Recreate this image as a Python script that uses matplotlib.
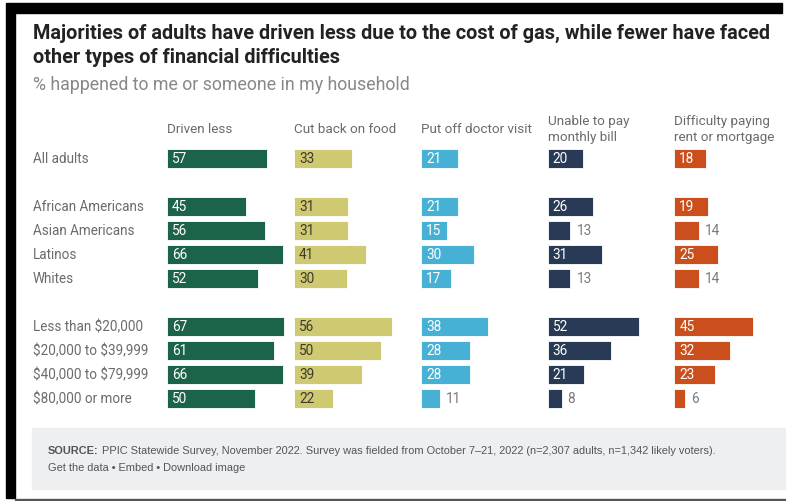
import matplotlib
matplotlib.use("Agg")
import matplotlib.pyplot as plt
from matplotlib.patches import Rectangle
from matplotlib import transforms

plt.rcParams["text.parse_math"] = False

W, H = 786, 502

groups = ["All adults", "African Americans", "Asian Americans", "Latinos", "Whites",
          "Less than $20,000", "$20,000 to $39,999", "$40,000 to $79,999", "$80,000 or more"]
row_pos = [0, 2, 3, 4, 5, 7, 8, 9, 10]

columns = ["Driven less", "Cut back on food", "Put off doctor visit",
           "Unable to pay\nmonthly bill", "Difficulty paying\nrent or mortgage"]
driven_less = [57, 45, 56, 66, 52, 67, 61, 66, 50]
cut_food = [33, 31, 31, 41, 30, 56, 50, 39, 22]
doctor = [21, 21, 15, 30, 17, 38, 28, 28, 11]
monthly_bill = [20, 26, 13, 31, 13, 52, 36, 21, 8]
rent = [18, 19, 14, 25, 14, 45, 32, 23, 6]
series = [driven_less, cut_food, doctor, monthly_bill, rent]

colors = ["#1c6449", "#cfc972", "#46b1d5", "#283a55", "#cb4f1c"]
inner_text = ["white", "#3b3b30", "white", "white", "white"]

FONT = "Roboto"
GREY = "#6b6b6b"


def fx(px):
    return px / W


def fy(py):
    return 1 - py / H


fig = plt.figure(figsize=(W / 100, H / 100), dpi=100)
fig.patch.set_facecolor("white")

# frame pieces around the card
fig.patches.append(Rectangle((fx(6), fy(14)), fx(776), 10 / H, transform=fig.transFigure,
                             color="black", zorder=0))
fig.patches.append(Rectangle((fx(6), fy(499)), fx(9), 485 / H, transform=fig.transFigure,
                             color="black", zorder=0))
fig.patches.append(Rectangle((fx(15), fy(502)), fx(771), 2.5 / H, transform=fig.transFigure,
                             color="#555555", zorder=0))
# source box
fig.patches.append(Rectangle((fx(32), fy(490)), fx(754), 61 / H, transform=fig.transFigure,
                             color="#eeeff1", zorder=0))

fig.text(fx(33), fy(33), "Majorities of adults have driven less due to the cost of gas, while fewer have faced",
         family=FONT, weight="bold", fontsize=14.3, color="#222222", va="center")
fig.text(fx(33), fy(57.5), "other types of financial difficulties",
         family=FONT, weight="bold", fontsize=14.3, color="#222222", va="center")
fig.text(fx(33), fy(85), "% happened to me or someone in my household",
         family=FONT, fontsize=12.8, color="#888888", va="center")

col_left = [167, 294, 421, 547.7, 674.3]
px_per_unit = 1.75
xmax = 70
row_top, row_h = 159.5 - 12, 24

axes = []
for i, (name, vals) in enumerate(zip(columns, series)):
    ax = fig.add_axes([fx(col_left[i]), fy(row_top + 11 * row_h), xmax * px_per_unit / W, 11 * row_h / H])
    ax.set_xlim(0, xmax)
    ax.set_ylim(10.5, -0.5)
    ax.axis("off")
    ax.barh(row_pos, vals, height=0.81, color=colors[i], edgecolor="white", linewidth=0.6)
    for y, v in zip(row_pos, vals):
        if v >= 15:
            ax.text(5 / px_per_unit, y, str(v), color=inner_text[i], family=FONT,
                    fontsize=9.8, va="center", ha="left")
        else:
            ax.text(v + 6 / px_per_unit, y, str(v), color="#7a7a7a", family=FONT,
                    fontsize=9.8, va="center", ha="left")
    head = transforms.blended_transform_factory(ax.transData, fig.transFigure)
    ax.text(0, fy(129.5), name, transform=head, family=FONT, fontsize=9.7, color=GREY,
            va="center", ha="left", linespacing=1.25)
    axes.append(ax)

lab = transforms.blended_transform_factory(fig.transFigure, axes[0].transData)
for g, y in zip(groups, row_pos):
    axes[0].text(fx(33), y, g, transform=lab, family=FONT, fontsize=9.75, color=GREY,
                 va="center", ha="left")

foot = ["Liberation Sans Narrow", "Liberation Sans"]
t = fig.text(fx(48), fy(451), "SOURCE:", family=foot, weight="bold", fontsize=7.9,
             color="#555555", va="center")
fig.canvas.draw()
bb = t.get_window_extent()
fig.text((bb.x1 + 3) / W, fy(451),
         "PPIC Statewide Survey, November 2022. Survey was fielded from October 7\u201321, 2022 "
         "(n=2,307 adults, n=1,342 likely voters).",
         family=foot, fontsize=7.9, color="#555555", va="center")
fig.text(fx(48), fy(468), "Get the data \u2022 Embed \u2022 Download image",
         family=foot, fontsize=7.9, color="#555555", va="center")

fig.savefig("out.png", dpi=100)
